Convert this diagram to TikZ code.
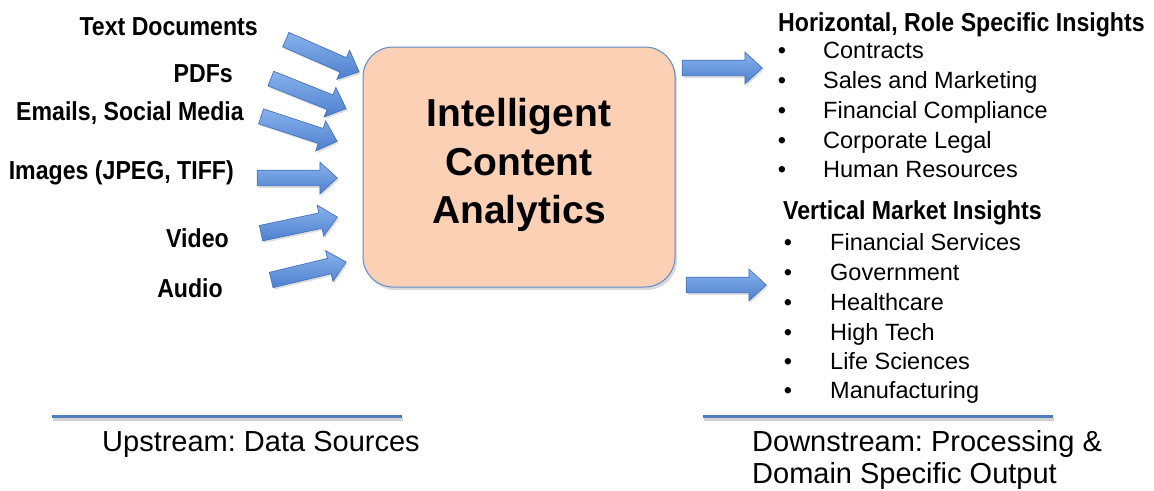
\documentclass[tikz,border=0pt]{standalone}
\usepackage{fontspec}
\setmainfont{Liberation Sans}
\newfontfamily\condb[FakeStretch=0.89]{Liberation Sans}
\usetikzlibrary{shapes.arrows,shadows}
\definecolor{peach}{RGB}{251,208,181}
\definecolor{boxblue}{RGB}{95,140,200}
\definecolor{arrtop}{RGB}{135,178,236}
\definecolor{arrbot}{RGB}{78,128,206}
\definecolor{arredge}{RGB}{70,115,190}
\definecolor{rulecol}{RGB}{79,125,192}
\frenchspacing
\tikzset{
  blockarrow/.style={single arrow, minimum width=31pt, single arrow head extend=8pt,
    single arrow tip angle=85, inner xsep=0pt, inner ysep=7.5pt, top color=arrtop, bottom color=arrbot,
    draw=arredge, line width=0.7pt,
    drop shadow={shadow xshift=1.5pt, shadow yshift=-2pt, opacity=0.25}},
  cbox/.style={rounded corners=30pt, fill=peach, draw=boxblue, line width=1pt,
    drop shadow={shadow xshift=2pt, shadow yshift=-3pt, opacity=0.3}},
  srclabel/.style={font=\condb\bfseries\fontsize{26}{30}\selectfont, inner sep=0pt},
  headlabel/.style={font=\condb\bfseries\fontsize{26}{30}\selectfont, inner sep=0pt, anchor=base west},
  itemtext/.style={font=\fontsize{23.5}{28}\selectfont, inner sep=0pt, anchor=base west},
  bul/.style={font=\fontsize{23.5}{28}\selectfont, inner sep=0pt, anchor=base},
  foot/.style={font=\fontsize{29}{32}\selectfont, inner sep=0pt, anchor=base west},
}
\begin{document}
\begin{tikzpicture}[x=1pt,y=-1pt]
\useasboundingbox (0,0) rectangle (1154,490);
% central box
\node[cbox, minimum width=312pt, minimum height=240pt] (ica) at (519,167) {};
\node[font=\bfseries\fontsize{39}{48.5}\selectfont, align=center, inner sep=0pt] (icat) at (ica.center) [yshift=2pt] {Intelligent\\Content\\Analytics};
% source labels
\node[srclabel, anchor=base east] (l1) at (258,35) {Text Documents};
\node[srclabel, anchor=base east] (l2) at (233,82) {PDFs};
\node[srclabel, anchor=base east] (l3) at (244,120) {Emails, Social Media};
\node[srclabel, anchor=base east] (l4) at (234,179) {Images (JPEG, TIFF)};
\node[srclabel, anchor=base east] (l5) at (229,247) {Video};
\node[srclabel, anchor=base east] (l6) at (223,297) {Audio};
% input arrows
\node[blockarrow, minimum height=80pt, rotate=-23.7] (a1) at (318.5,54) {};
\node[blockarrow, minimum height=81pt, rotate=-21.8] (a2) at (304.5,92) {};
\node[blockarrow, minimum height=80pt, rotate=-18.2] (a3) at (295,127.5) {};
\node[blockarrow, minimum height=80pt] (a4) at (293,178) {};
\node[blockarrow, minimum height=78pt, rotate=11.9] (a5) at (295,226) {};
\node[blockarrow, minimum height=77pt, rotate=13.5] (a6) at (304.5,272) {};
% output arrows
\node[blockarrow, minimum height=80pt] (r1) at (718,68) {};
\node[blockarrow, minimum height=80pt] (r2) at (722,285) {};
% horizontal insights
\node[headlabel] (hh) at (778,31) {Horizontal, Role Specific Insights};
\node[bul] (hb1) at (782,58) {\textbullet};
\node[itemtext] (h1) at (823,58) {Contracts};
\node[bul] (hb2) at (782,88) {\textbullet};
\node[itemtext] (h2) at (823,88) {Sales and Marketing};
\node[bul] (hb3) at (782,118) {\textbullet};
\node[itemtext] (h3) at (823,118) {Financial Compliance};
\node[bul] (hb4) at (782,148) {\textbullet};
\node[itemtext] (h4) at (823,148) {Corporate Legal};
\node[bul] (hb5) at (782,177) {\textbullet};
\node[itemtext] (h5) at (823,177) {Human Resources};
% vertical insights
\node[headlabel] (vh) at (783,219) {Vertical Market Insights};
\node[bul] (vb1) at (788,250) {\textbullet};
\node[itemtext] (v1) at (830,250) {Financial Services};
\node[bul] (vb2) at (788,280) {\textbullet};
\node[itemtext] (v2) at (830,280) {Government};
\node[bul] (vb3) at (788,310) {\textbullet};
\node[itemtext] (v3) at (830,310) {Healthcare};
\node[bul] (vb4) at (788,340) {\textbullet};
\node[itemtext] (v4) at (830,340) {High Tech};
\node[bul] (vb5) at (788,369) {\textbullet};
\node[itemtext] (v5) at (830,369) {Life Sciences};
\node[bul] (vb6) at (788,398) {\textbullet};
\node[itemtext] (v6) at (830,398) {Manufacturing};
% rules
\draw[line width=3pt, black, opacity=0.18] (53,419) -- (403,419);
\draw[line width=3pt, rulecol] (52,416) -- (402,416);
\draw[line width=3pt, black, opacity=0.18] (704,419) -- (1054,419);
\draw[line width=3pt, rulecol] (703,416) -- (1053,416);
% footers
\node[foot] (up) at (102,451) {Upstream: Data Sources};
\node[foot] (dn1) at (752,451) {Downstream: Processing \&};
\node[foot] (dn2) at (752,483) {Domain Specific Output};
\end{tikzpicture}
\end{document}
